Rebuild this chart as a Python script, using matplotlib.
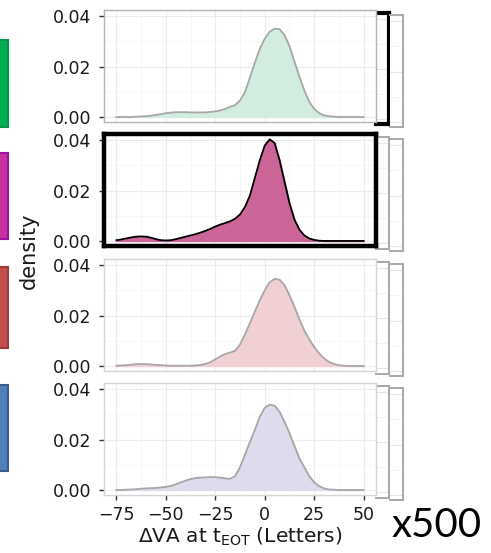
import numpy as np
import matplotlib
matplotlib.use("Agg")
import matplotlib.pyplot as plt
from matplotlib.patches import Rectangle

plt.rcParams['font.family'] = ['DejaVu Sans']
plt.rcParams['mathtext.fontset'] = 'dejavusans'

x_vals = [-75, -72.5, -70, -67.5, -65, -62.5, -60, -57.5, -55, -52.5, -50,
          -47.5, -45, -42.5, -40, -37.5, -35, -32.5, -30, -27.5, -25,
          -22.5, -20, -17.5, -15, -12.5, -10, -7.5, -5, -2.5, 0,
          2.5, 5, 7.5, 10, 12.5, 15, 17.5, 20, 22.5, 25,
          27.5, 30, 32.5, 35, 37.5, 40, 42.5, 45, 47.5, 50]

dens_verde = [0.0, 0.0, 0.0, 0.0, 0.0001, 0.0002, 0.0003, 0.0005, 0.0008, 0.0011, 0.0015,
              0.0017, 0.0019, 0.0019, 0.0019, 0.0018, 0.0018, 0.0018, 0.0018, 0.002, 0.0022,
              0.0026, 0.0032, 0.004, 0.0047, 0.0065, 0.0098, 0.0155, 0.0215, 0.027, 0.031,
              0.0338, 0.035, 0.0348, 0.0325, 0.028, 0.022, 0.016, 0.0105, 0.006, 0.0032,
              0.0015, 0.0006, 0.0003, 0.0001, 0.0, 0.0, 0.0, 0.0, 0.0, 0.0]

dens_magenta = [0.0003, 0.0006, 0.001, 0.0014, 0.0017, 0.0018, 0.0017, 0.0013, 0.0007, 0.0003, 0.0002,
                0.0003, 0.0007, 0.0012, 0.0017, 0.0022, 0.0027, 0.0033, 0.004, 0.0048, 0.0057,
                0.0065, 0.0071, 0.0078, 0.0088, 0.0105, 0.0135, 0.018, 0.025, 0.032, 0.0378,
                0.0403, 0.0388, 0.032, 0.0235, 0.015, 0.0085, 0.0045, 0.0022, 0.001, 0.0004,
                0.0001, 0.0, 0.0, 0.0, 0.0, 0.0, 0.0, 0.0, 0.0, 0.0]

dens_rojo = [0.0001, 0.0002, 0.0003, 0.0005, 0.0007, 0.0008, 0.0007, 0.0006, 0.0004, 0.0003, 0.0002,
             0.0001, 0.0001, 0.0001, 0.0001, 0.0001, 0.0002, 0.0004, 0.0008, 0.0015, 0.0026,
             0.0038, 0.0047, 0.0053, 0.006, 0.0085, 0.0125, 0.017, 0.0215, 0.026, 0.03,
             0.0332, 0.0345, 0.0342, 0.032, 0.028, 0.0235, 0.0185, 0.014, 0.0105, 0.0075,
             0.005, 0.003, 0.0016, 0.0008, 0.0003, 0.0001, 0.0, 0.0, 0.0, 0.0]

dens_azul = [0.0, 0.0, 0.0001, 0.0002, 0.0003, 0.0005, 0.0006, 0.0007, 0.0008, 0.001, 0.0012,
             0.0016, 0.0022, 0.003, 0.0037, 0.0043, 0.0047, 0.0049, 0.005, 0.0051, 0.0051,
             0.0049, 0.0046, 0.0044, 0.0055, 0.009, 0.014, 0.019, 0.0238, 0.029, 0.0326,
             0.0338, 0.0334, 0.031, 0.027, 0.0225, 0.0175, 0.0125, 0.009, 0.0055, 0.003,
             0.0015, 0.0006, 0.0002, 0.0001, 0.0, 0.0, 0.0, 0.0, 0.0, 0.0]

densidades = [dens_verde, dens_magenta, dens_rojo, dens_azul]
rellenos = ['#d2ede0', '#cc6699', '#f0d0d3', '#dcdcec']
lineas = ['#a8a8a8', '#000000', '#a8a8a8', '#a8a8a8']
marcos = ['#b4b4b4', '#000000', '#d6d6d6', '#d6d6d6']
ancho_marco = [1.0, 3.2, 1.0, 1.0]
# bloques de color a la izquierda (relleno, borde)
bloques = [('#00b050', '#00994a'), ('#c8329e', '#9c12a2'),
           ('#c0504d', '#a03c3a'), ('#4f81bd', '#385d8a')]
bloques_y = [(40, 127), (153, 239), (267, 348), (385, 471)]

x_ticks = [-75, -50, -25, 0, 25, 50]
x_labels = ['\u221275', '\u221250', '\u221225', '0', '25', '50']
y_ticks = [0.00, 0.02, 0.04]
y_labels = ['0.00', '0.02', '0.04']

W, H = 491, 553
fig = plt.figure(figsize=(W / 100, H / 100), dpi=100)


def caja(x0, y0, x1, y1):
    # pixeles (arriba-izquierda) -> fraccion de figura
    return [x0 / W, 1 - y1 / H, (x1 - x0) / W, (y1 - y0) / H]


tops = [10, 134, 259, 383]
alto = 112
der = 376
for i in range(4):
    top = tops[i]
    # tiras de las copias apiladas detras de cada panel
    for x0, dx, dy, k in [(der, 13, 2.5, 1), (der + 14, 27, 5, 2)]:
        axc = fig.add_axes(caja(x0, top + dy, der + dx, top + alto + dy))
        axc.set_xlim(0, 1)
        axc.set_ylim(-0.002, 0.0424)
        axc.set_yticks(y_ticks)
        axc.set_yticks([0.01, 0.03], minor=True)
        axc.set_xticks([])
        axc.grid(True, axis='y', which='major', color='#e6e6e6', linewidth=0.8)
        axc.grid(True, axis='y', which='minor', color='#f3f3f3', linewidth=0.6)
        axc.tick_params(which='both', length=0, labelleft=False)
        color_c, lw_c = '#a8a8a8', 1.4
        if i == 0 and k == 1:
            color_c, lw_c = '#000000', 3.0
        axc.spines['left'].set_visible(False)
        for lado in ['top', 'right', 'bottom']:
            axc.spines[lado].set_color(color_c)
            axc.spines[lado].set_linewidth(lw_c)

    ax = fig.add_axes(caja(104, top, der, top + alto))
    ax.set_xlim(-81.25, 56.25)
    ax.set_ylim(-0.002, 0.0424)
    ax.set_xticks(x_ticks)
    ax.set_xticks([-62.5, -37.5, -12.5, 12.5, 37.5], minor=True)
    ax.set_yticks(y_ticks)
    ax.set_yticks([0.01, 0.03], minor=True)
    ax.grid(True, which='major', color='#ececec', linewidth=0.8)
    ax.grid(True, which='minor', color='#f6f6f6', linewidth=0.6)
    ax.set_axisbelow(True)

    ax.fill_between(x_vals, densidades[i], color=rellenos[i], zorder=2)
    ax.plot(x_vals, densidades[i], color=lineas[i], linewidth=1.3, zorder=3,
            solid_joinstyle='round')
    for s in ax.spines.values():
        s.set_color(marcos[i])
        s.set_linewidth(ancho_marco[i])
    ax.set_yticklabels(y_labels)
    ax.tick_params(axis='y', which='major', length=3.8, width=1.0, color='#333333',
                   labelsize=12.5, labelcolor='#1a1a1a', pad=5.5)
    ax.tick_params(which='minor', length=0)
    if i < 3:
        ax.tick_params(axis='x', which='major', length=0, labelbottom=False)
    else:
        ax.set_xticklabels(x_labels)
        ax.tick_params(axis='x', which='major', length=3.8, width=1.0, color='#333333',
                       labelsize=12.5, labelcolor='#1a1a1a', pad=4)
        ax.set_xlabel('\u0394VA at t$_{\\mathrm{EOT}}$ (Letters)', fontsize=14.5,
                      color='#1a1a1a', labelpad=1.5)

    # bloque de color de cada grupo
    y0, y1 = bloques_y[i]
    fig.add_artist(Rectangle(((-6) / W, 1 - y1 / H), 14 / W, (y1 - y0) / H,
                             transform=fig.transFigure, facecolor=bloques[i][0],
                             edgecolor=bloques[i][1], linewidth=1.5))

fig.text(29 / W, 1 - 251 / H, 'density', rotation=90, ha='center', va='center',
         fontsize=15, color='#1a1a1a')
fig.text(392 / W, 1 - 537 / H, 'x500', ha='left', va='baseline', fontsize=29,
         family=['Lato', 'DejaVu Sans'], color='#000000')

fig.savefig('out.png', dpi=100, facecolor='white')
